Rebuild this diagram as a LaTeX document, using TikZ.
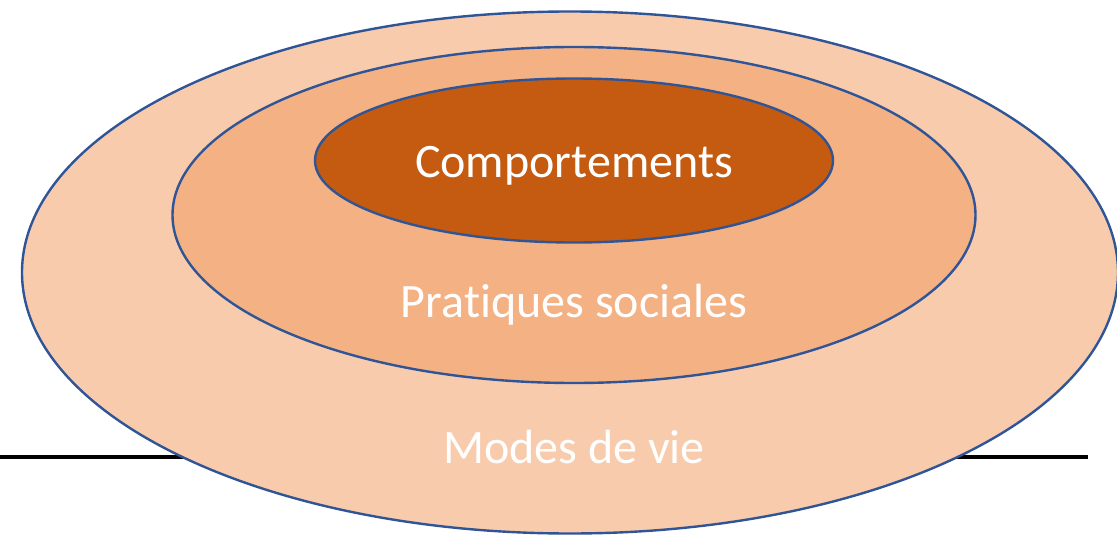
\documentclass[tikz,border=0pt]{standalone}
\usepackage{fontspec}
\setmainfont{Carlito}[RawFeature={-liga;-clig;-dlig;-calt;-hlig}]
\usetikzlibrary{shapes.geometric}
\definecolor{ringA}{HTML}{F8CBAD}
\definecolor{ringB}{HTML}{F4B183}
\definecolor{ringC}{HTML}{C55A11}
\definecolor{edgeblue}{HTML}{2F5597}
\tikzset{
  ring/.style={ellipse, draw=edgeblue, line width=2.4pt, inner sep=0pt},
  lbl/.style={text=white, font=\fontsize{48}{56}\selectfont, anchor=base, inner sep=0pt}
}
\begin{document}
\begin{tikzpicture}[x=1pt,y=-1pt]
\useasboundingbox (0,0) rectangle (1117,535);
\coordinate (L0) at (0,457);
\coordinate (L1) at (1088,457);
\draw[line width=4pt, black] (L0) -- (L1);
\node[ring, fill=ringA, minimum width=1096pt, minimum height=522pt] (outer) at (570,272.5) {};
\node[ring, fill=ringB, minimum width=803pt, minimum height=336pt] (middle) at (574,215) {};
\node[ring, fill=ringC, minimum width=518pt, minimum height=164pt] (inner) at (574,160.5) {};
\node[lbl] (t1) at (574,177) {Comportements};
\node[lbl] (t2) at (574,317) {Prat\kern0pt iques sociales};
\node[lbl] (t3) at (574,463) {Modes de vie};
\end{tikzpicture}
\end{document}
